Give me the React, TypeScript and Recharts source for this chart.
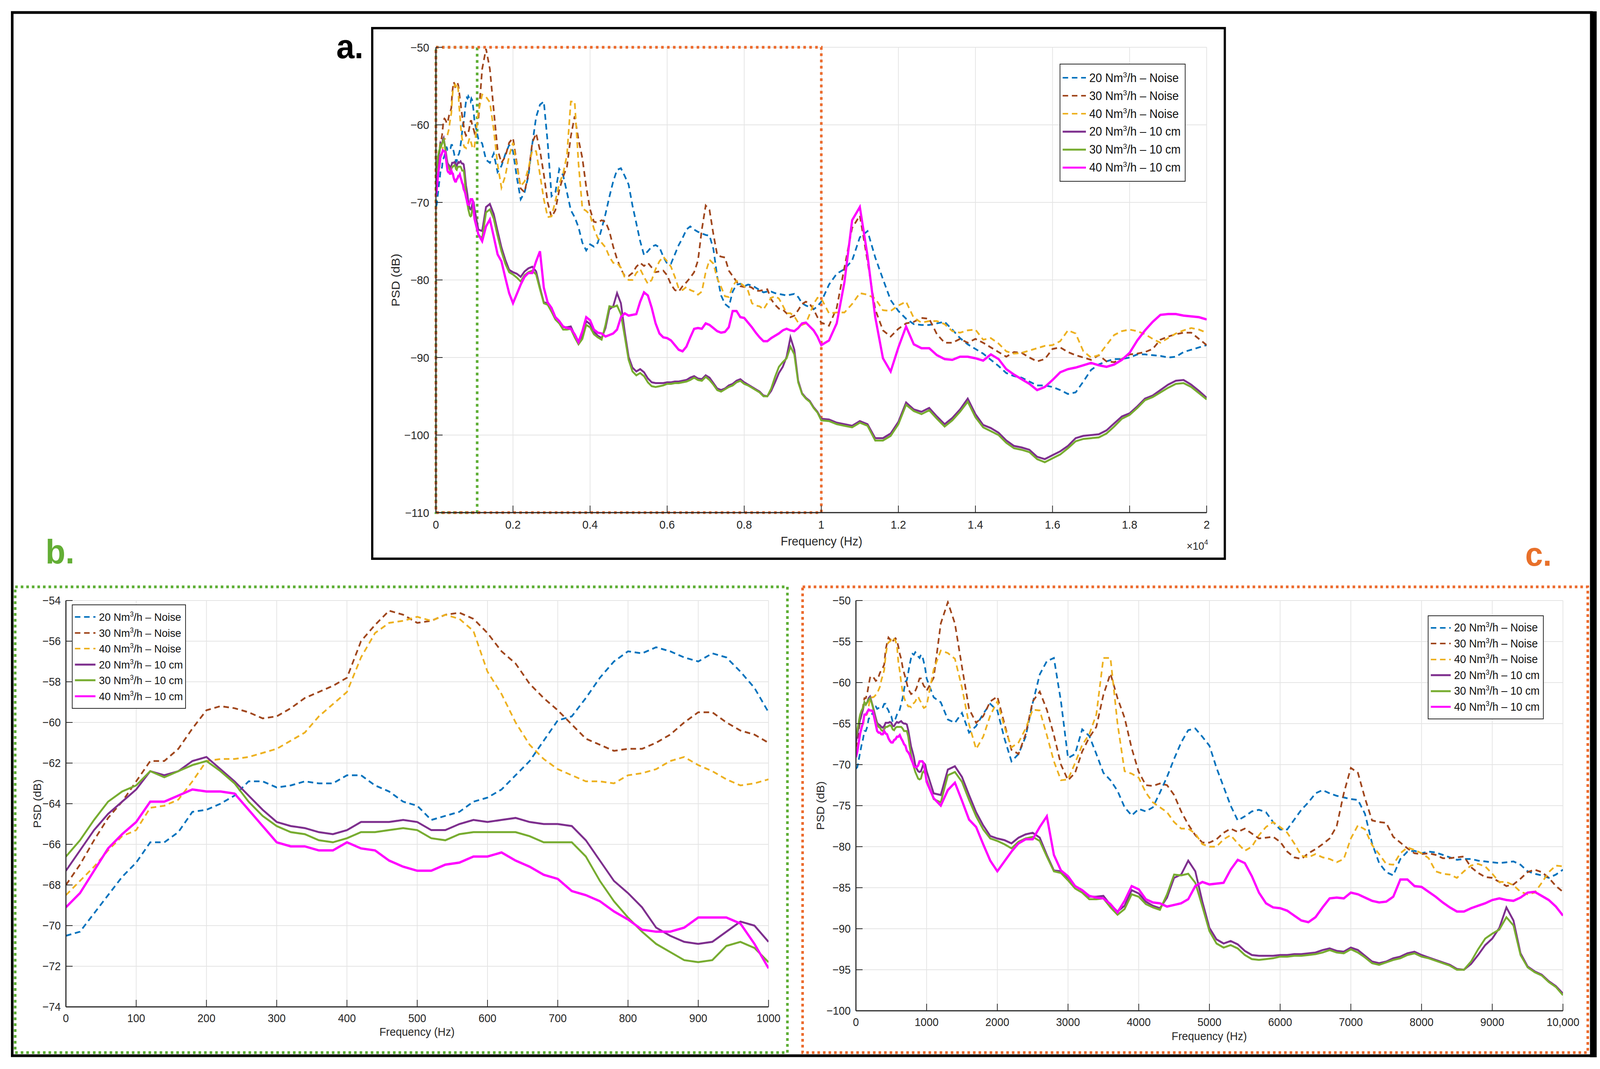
import React from 'react';
import { LineChart, Line, XAxis, YAxis, CartesianGrid, Legend, ReferenceArea } from 'recharts';

const FONT = '"Liberation Sans", Arial, Helvetica, sans-serif';
const INK = '#262626';
const ORANGE = '#EC6B2D';
const GREEN = '#5DAE34';

// Sampling frequencies (Hz)
const FREQ_HZ = [
  0, 20, 40, 60, 80, 100, 120, 140, 160, 180,
  200, 220, 240, 260, 280, 300, 320, 340, 360, 380,
  400, 420, 440, 460, 480, 500, 520, 540, 560, 580,
  600, 620, 640, 660, 680, 700, 720, 740, 760, 780,
  800, 820, 840, 860, 880, 900, 920, 940, 960, 980,
  1000,
  1100, 1200, 1300, 1400, 1500, 1600, 1700, 1800, 1900, 2000,
  2100, 2200, 2300, 2400, 2500, 2600, 2700, 2800, 2900, 3000,
  3100, 3200, 3300, 3400, 3500, 3600, 3700, 3800, 3900, 4000,
  4100, 4200, 4300, 4400, 4500, 4600, 4700, 4800, 4900, 5000,
  5100, 5200, 5300, 5400, 5500, 5600, 5700, 5800, 5900, 6000,
  6100, 6200, 6300, 6400, 6500, 6600, 6700, 6800, 6900, 7000,
  7100, 7200, 7300, 7400, 7500, 7600, 7700, 7800, 7900, 8000,
  8100, 8200, 8300, 8400, 8500, 8600, 8700, 8800, 8900, 9000,
  9100, 9200, 9300, 9400, 9500, 9600, 9700, 9800, 9900, 10000,
  10200, 10400, 10600, 10800, 11000, 11200, 11400, 11600, 11800, 12000,
  12200, 12400, 12600, 12800, 13000, 13200, 13400, 13600, 13800, 14000,
  14200, 14400, 14600, 14800, 15000, 15200, 15400, 15600, 15800, 16000,
  16200, 16400, 16600, 16800, 17000, 17200, 17400, 17600, 17800, 18000,
  18200, 18400, 18600, 18800, 19000, 19200, 19400, 19600, 19800, 20000,
];

// 20 Nm3/h - Noise (dB)
const NOISE_20 = [
  -70.5, -70.3, -69.4, -68.5, -67.6, -66.9, -65.9, -65.9, -65.4, -64.4,
  -64.3, -64.0, -63.6, -62.9, -62.9, -63.2, -63.1, -62.9, -63.0, -63.0,
  -62.6, -62.6, -63.1, -63.4, -63.9, -64.1, -64.8, -64.6, -64.4, -63.9,
  -63.7, -63.3, -62.6, -61.9, -60.9, -59.9, -59.7, -58.8, -57.8, -57.0,
  -56.5, -56.6, -56.3, -56.5, -56.8, -57.0, -56.6, -56.8, -57.5, -58.3,
  -59.5,
  -61.8, -62.4, -64.5, -64.9, -63.7, -66.1, -65.3, -63.8, -62.6, -63.4,
  -66.8, -69.6, -68.7, -66.6, -62.5, -59.0, -57.4, -57.0, -62.3, -69.2,
  -68.7, -65.7, -66.5, -68.7, -71.0, -71.9, -73.2, -75.2, -76.2, -75.4,
  -75.7, -75.2, -73.4, -71.5, -69.3, -67.3, -65.8, -65.6, -66.6, -67.7,
  -70.4, -72.7, -75.0, -76.8, -76.3, -75.7, -75.5, -75.8, -77.0, -77.9,
  -77.9, -76.7, -75.5, -74.6, -73.5, -73.1, -73.5, -73.8, -74.0, -74.2,
  -74.3, -76.0, -79.6, -82.0, -83.1, -83.5, -81.5, -80.6, -80.5, -80.8,
  -80.6, -80.7, -81.0, -81.3, -81.6, -81.5, -81.5, -81.7, -81.8, -81.9,
  -82.0, -81.9, -81.8, -82.2, -83.0, -83.3, -83.5, -83.8, -83.4, -82.8,
  -80.6, -79.2, -78.6, -77.5, -74.5, -73.7, -77.1, -79.9, -82.6, -84.0,
  -85.0, -85.7, -85.8, -85.8, -85.6, -85.4, -86.4, -87.5, -88.3, -88.9,
  -89.5, -90.3, -91.1, -92.0, -92.4, -92.6, -93.1, -93.6, -93.6, -93.8,
  -94.2, -94.7, -94.5, -93.1, -91.6, -90.9, -90.5, -90.2, -90.2, -90.0,
  -89.6, -89.6, -89.7, -89.8, -90.0, -89.9, -89.3, -89.0, -88.7, -88.4,
];

// 30 Nm3/h - Noise (dB)
const NOISE_30 = [
  -68.0, -67.0, -65.8, -64.7, -63.9, -62.9, -61.9, -61.9, -61.3, -60.3,
  -59.4, -59.2, -59.3, -59.5, -59.8, -59.7, -59.3, -58.8, -58.5, -58.2,
  -57.8, -56.0, -55.2, -54.5, -54.7, -55.1, -55.0, -54.7, -54.6, -54.9,
  -55.6, -56.5, -57.1, -58.1, -58.8, -59.4, -60.1, -60.8, -61.1, -61.4,
  -61.3, -61.3, -61.0, -60.6, -60.0, -59.5, -59.5, -60.0, -60.4, -60.6,
  -61.0,
  -59.4, -52.8, -50.2, -52.8, -58.1, -63.2, -64.9, -64.1, -62.3, -61.7,
  -65.0, -68.2, -68.7, -66.3, -62.3, -61.1, -63.3, -66.4, -70.0, -71.9,
  -71.0, -68.4, -66.7, -65.4, -61.5, -58.9, -61.9, -64.3, -68.0, -70.9,
  -72.5, -72.6, -72.3, -72.5, -73.7, -75.7, -77.3, -78.6, -79.5, -79.5,
  -79.1, -78.3, -77.8, -78.2, -77.8, -78.4, -79.0, -78.9, -78.8, -79.4,
  -80.6, -81.3, -81.5, -80.8, -80.3, -79.7, -79.0, -77.5, -73.5, -70.4,
  -71.0, -74.1, -76.8, -77.0, -77.1, -78.8, -79.5, -80.2, -80.8, -80.9,
  -80.8, -81.0, -81.4, -81.4, -81.3, -81.2, -82.5, -83.2, -83.7, -83.8,
  -84.3, -84.8, -84.6, -83.9, -83.1, -82.8, -83.1, -83.8, -84.8, -85.5,
  -85.9, -83.6, -78.4, -73.3, -71.7, -77.6, -83.8, -86.5, -87.3, -86.3,
  -85.6, -85.4, -84.9, -85.0, -87.0, -88.1, -88.1, -87.6, -88.1, -87.6,
  -88.1, -88.7, -89.3, -89.9, -89.3, -89.4, -90.0, -90.5, -90.2, -88.9,
  -88.7, -89.3, -89.7, -90.0, -90.3, -89.7, -90.5, -90.6, -90.2, -89.6,
  -89.5, -89.3, -88.9, -87.7, -87.3, -87.0, -86.8, -86.8, -87.6, -88.4,
];

// 40 Nm3/h - Noise (dB)
const NOISE_40 = [
  -68.5, -67.8, -67.1, -66.3, -65.6, -65.3, -64.2, -64.1, -63.8, -62.9,
  -61.9, -61.8, -61.8, -61.7, -61.5, -61.3, -60.9, -60.5, -59.7, -59.1,
  -58.5, -56.8, -55.6, -55.1, -55.0, -54.8, -55.0, -54.7, -54.9, -55.5,
  -57.5, -58.6, -60.0, -61.1, -61.8, -62.3, -62.6, -62.9, -62.9, -63.0,
  -62.6, -62.5, -62.3, -61.9, -61.7, -62.1, -62.4, -62.8, -63.1, -63.0,
  -62.8,
  -58.4, -56.1, -56.4, -57.1, -60.6, -65.1, -68.1, -66.6, -64.0, -62.3,
  -65.4, -67.9, -67.3, -65.6, -63.3, -63.4, -66.4, -69.6, -71.9, -71.8,
  -69.8, -67.6, -66.3, -63.9, -57.0, -57.0, -65.0, -70.8, -71.1, -71.6,
  -73.4, -74.6, -75.2, -75.8, -77.0, -77.8, -77.8, -78.4, -79.7, -80.0,
  -80.0, -79.1, -78.6, -79.6, -80.5, -80.0, -78.6, -77.6, -77.0, -77.6,
  -78.3, -79.6, -81.1, -81.3, -80.9, -81.3, -81.5, -81.9, -81.5, -79.0,
  -77.4, -77.9, -79.8, -80.9, -82.1, -82.2, -80.8, -80.1, -80.4, -80.8,
  -81.4, -83.0, -83.3, -83.4, -83.8, -83.0, -82.3, -82.1, -82.4, -83.3,
  -84.3, -84.3, -84.7, -85.5, -85.8, -85.6, -84.4, -83.1, -82.3, -82.4,
  -84.3, -84.2, -84.2, -83.1, -81.7, -81.9, -82.4, -83.9, -84.0, -83.3,
  -82.8, -84.9, -85.5, -85.3, -85.3, -85.7, -86.6, -86.8, -86.5, -86.4,
  -87.7, -87.5, -88.2, -89.2, -89.5, -89.4, -89.1, -88.8, -88.5, -88.4,
  -87.9, -86.5, -86.9, -89.2, -90.0, -89.7, -88.4, -87.1, -86.6, -86.4,
  -86.6, -87.0, -87.6, -88.1, -87.5, -86.9, -86.5, -86.2, -86.4, -86.8,
];

// 20 Nm3/h - 10 cm (dB)
const CM10_20 = [
  -67.3, -66.3, -65.3, -64.5, -63.9, -63.3, -62.4, -62.6, -62.4, -61.9,
  -61.7, -62.3, -62.9, -63.6, -64.3, -64.9, -65.1, -65.2, -65.4, -65.5,
  -65.3, -64.9, -64.9, -64.9, -64.8, -64.9, -65.3, -65.3, -65.0, -64.8,
  -64.9, -64.8, -64.7, -64.9, -65.0, -65.0, -65.1, -65.8, -66.8, -67.8,
  -68.4, -69.1, -70.1, -70.5, -70.8, -70.9, -70.8, -70.3, -69.8, -70.0,
  -70.8,
  -73.5, -73.7, -70.6, -70.2, -71.5, -73.7, -75.8, -77.4, -78.7, -79.0,
  -79.2, -79.6, -78.9, -78.5, -78.3, -78.9, -81.0, -82.9, -83.0, -83.8,
  -84.8, -85.3, -86.1, -86.1, -86.0, -87.1, -87.9, -87.2, -85.3, -85.7,
  -86.7, -87.2, -87.5, -86.2, -83.8, -83.4, -81.7, -83.0, -86.7, -89.9,
  -91.3, -91.8, -91.5, -91.9, -92.7, -93.2, -93.3, -93.3, -93.3, -93.2,
  -93.2, -93.1, -93.1, -93.0, -92.9, -92.6, -92.4, -92.7, -92.8, -92.3,
  -92.6, -93.3, -94.0, -94.2, -94.0, -93.6, -93.4, -93.0, -92.8, -93.2,
  -93.5, -93.8, -94.1, -94.4, -94.9, -95.0, -94.3, -93.2, -92.0, -91.2,
  -89.9, -87.4, -89.0, -93.0, -94.6, -95.2, -95.6, -96.4, -97.0, -97.9,
  -98.0, -98.4, -98.6, -98.8, -98.2, -98.6, -100.4, -100.4, -99.8, -98.3,
  -95.8, -96.7, -97.0, -96.5, -97.6, -98.6, -97.8, -96.7, -95.3, -97.3,
  -98.7, -99.1, -99.7, -100.7, -101.4, -101.6, -101.9, -102.8, -103.1, -102.6,
  -102.1, -101.4, -100.4, -100.1, -100.0, -99.9, -99.4, -98.5, -97.6, -97.2,
  -96.3, -95.3, -94.9, -94.2, -93.5, -93.0, -92.9, -93.5, -94.3, -95.2,
];

// 30 Nm3/h - 10 cm (dB)
const CM10_30 = [
  -66.6, -65.8, -64.8, -63.9, -63.4, -63.1, -62.4, -62.7, -62.4, -62.1,
  -61.9, -62.4, -63.0, -63.9, -64.6, -65.1, -65.4, -65.5, -65.8, -65.9,
  -65.7, -65.4, -65.4, -65.3, -65.2, -65.3, -65.7, -65.8, -65.5, -65.4,
  -65.4, -65.4, -65.4, -65.6, -65.9, -65.9, -65.9, -66.6, -67.8, -68.8,
  -69.6, -70.3, -70.9, -71.3, -71.7, -71.8, -71.7, -71.0, -70.8, -71.1,
  -71.8,
  -74.2, -74.6, -71.3, -70.9, -72.1, -74.3, -76.3, -77.9, -79.0, -79.3,
  -79.7, -80.2, -79.4, -79.0, -78.8, -79.3, -81.2, -83.0, -83.2, -84.1,
  -85.1, -85.6, -86.4, -86.4, -86.3, -87.4, -88.3, -87.6, -85.8, -86.1,
  -87.0, -87.4, -87.7, -85.8, -83.4, -83.5, -83.3, -84.4, -87.3, -90.3,
  -91.8, -92.3, -92.0, -92.4, -93.2, -93.7, -93.8, -93.7, -93.6, -93.4,
  -93.4, -93.3, -93.3, -93.2, -93.1, -92.9, -92.6, -92.9, -93.0, -92.5,
  -92.9, -93.5, -94.2, -94.4, -94.1, -93.8, -93.6, -93.2, -93.0, -93.4,
  -93.6, -93.9, -94.2, -94.5, -95.0, -95.0, -94.0, -92.5, -91.2, -90.6,
  -90.1, -88.6, -89.6, -93.2, -94.7, -95.3, -95.7, -96.5, -97.1, -98.1,
  -98.2, -98.6, -98.8, -99.0, -98.4, -98.8, -100.7, -100.7, -100.1, -98.6,
  -96.1, -96.9, -97.3, -96.8, -97.9, -98.9, -98.1, -97.0, -95.7, -97.7,
  -99.0, -99.5, -100.0, -101.0, -101.7, -101.9, -102.2, -103.1, -103.5, -103.0,
  -102.5, -101.7, -100.8, -100.5, -100.4, -100.3, -99.8, -98.9, -97.9, -97.4,
  -96.5, -95.5, -95.1, -94.5, -93.9, -93.4, -93.3, -93.8, -94.6, -95.4,
];

// 40 Nm3/h - 10 cm (dB)
const CM10_40 = [
  -69.1, -68.4, -67.3, -66.2, -65.5, -64.9, -63.9, -63.9, -63.6, -63.3,
  -63.4, -63.4, -63.5, -64.3, -65.1, -65.9, -66.1, -66.1, -66.3, -66.3,
  -65.9, -66.2, -66.3, -66.8, -67.1, -67.3, -67.3, -67.0, -66.9, -66.6,
  -66.6, -66.4, -66.8, -67.1, -67.5, -67.7, -68.3, -68.5, -68.8, -69.3,
  -69.7, -70.2, -70.3, -70.3, -70.1, -69.6, -69.6, -69.6, -69.9, -70.9,
  -72.1,
  -74.1, -75.0, -73.1, -72.2, -74.4, -76.7, -77.6, -79.7, -81.7, -83.0,
  -81.8, -80.6, -79.6, -79.1, -79.1, -77.6, -76.3, -81.0, -82.9, -83.6,
  -84.8, -85.3, -86.0, -86.2, -86.3, -87.0, -88.0, -86.6, -84.8, -85.2,
  -86.4, -86.8, -86.9, -87.3, -87.1, -86.9, -86.4, -84.8, -84.3, -84.6,
  -84.5, -84.4, -82.8, -81.6, -82.0, -83.6, -85.6, -86.9, -87.4, -87.5,
  -87.8, -88.4, -89.0, -89.2, -88.6, -87.4, -86.3, -86.2, -86.3, -85.6,
  -85.8, -86.2, -86.6, -86.8, -86.7, -86.1, -84.0, -84.0, -84.8, -84.9,
  -85.5, -86.1, -86.8, -87.4, -87.9, -87.9, -87.5, -87.2, -86.9, -86.5,
  -86.3, -86.5, -86.6, -86.2, -85.6, -85.5, -86.0, -86.5, -87.3, -88.4,
  -87.8, -85.6, -80.3, -72.3, -70.6, -76.9, -84.8, -90.1, -91.8, -88.7,
  -86.0, -88.3, -88.8, -88.8, -89.7, -90.2, -90.3, -89.9, -89.9, -90.1,
  -90.4, -89.6, -90.2, -91.5, -92.2, -92.8, -93.4, -94.2, -93.8, -92.9,
  -91.9, -91.5, -91.3, -91.0, -90.7, -91.0, -91.2, -90.9, -90.3, -89.4,
  -87.8, -86.5, -85.4, -84.5, -84.4, -84.4, -84.6, -84.7, -84.8, -85.1,
];

const SERIES = [
  { key: 'n20', name: '20 Nm³/h – Noise', color: '#0072BD', dash: '15 10', width: 4.5, values: NOISE_20 },
  { key: 'n30', name: '30 Nm³/h – Noise', color: '#A0461C', dash: '15 10', width: 4.5, values: NOISE_30 },
  { key: 'n40', name: '40 Nm³/h – Noise', color: '#EDB120', dash: '15 10', width: 4.5, values: NOISE_40 },
  { key: 'c20', name: '20 Nm³/h – 10 cm', color: '#7E2F8E', dash: undefined, width: 5, values: CM10_20 },
  { key: 'c30', name: '30 Nm³/h – 10 cm', color: '#77AC30', dash: undefined, width: 5, values: CM10_30 },
  { key: 'c40', name: '40 Nm³/h – 10 cm', color: '#FF00FF', dash: undefined, width: 6, values: CM10_40 },
];

const ROWS = FREQ_HZ.map((f, i) => {
  const r: any = { f };
  SERIES.forEach((s) => { r[s.key] = s.values[i]; });
  return r;
});

const X_TICKS_A = [0, 2000, 4000, 6000, 8000, 10000, 12000, 14000, 16000, 18000, 20000];
const Y_TICKS_A = [-110, -100, -90, -80, -70, -60, -50];
const X_TICKS_B = [0, 100, 200, 300, 400, 500, 600, 700, 800, 900, 1000];
const Y_TICKS_B = [-74, -72, -70, -68, -66, -64, -62, -60, -58, -56, -54];
const X_TICKS_C = [0, 1000, 2000, 3000, 4000, 5000, 6000, 7000, 8000, 9000, 10000];
const Y_TICKS_C = [-100, -95, -90, -85, -80, -75, -70, -65, -60, -55, -50];

const minusFmt = (v: number) => (v < 0 ? '\u2212' + Math.abs(v) : String(v));

const PANELS: any = {
  a: {
    plot: { x: 1177, y: 121, w: 2081, h: 1191 },
    xMax: 20000, xTicks: X_TICKS_A, xFmt: (v: number) => String(v / 10000),
    yDomain: [-110, -50], yTicks: Y_TICKS_A,
    legend: { x: 2861, y: 163, w: 340, h: 302, font: 31, sample: 63 },
    tickFont: 30, yGap: 18, xGap: 20,
  },
  b: {
    plot: { x: 178, y: 1537, w: 1897, h: 1040 },
    xMax: 1000, xTicks: X_TICKS_B, xFmt: (v: number) => String(v),
    yDomain: [-74, -54], yTicks: Y_TICKS_B,
    legend: { x: 194, y: 1547, w: 308, h: 267, font: 28.5, sample: 56 },
    tickFont: 29, yGap: 14, xGap: 18,
  },
  c: {
    plot: { x: 2311, y: 1537, w: 1909, h: 1050 },
    xMax: 10000, xTicks: X_TICKS_C, xFmt: (v: number) => (v === 10000 ? '10,000' : String(v)),
    yDomain: [-100, -50], yTicks: Y_TICKS_C,
    legend: { x: 3855, y: 1575, w: 313, h: 266, font: 29, sample: 54 },
    tickFont: 29, yGap: 14, xGap: 18,
  },
};

// Layout is designed in reference pixels (4320 x 2736). The browser viewport is
// narrower than that (about 4096 px), so the drawing is fitted to it horizontally.
const DESIGN_W = 4320;
const DESIGN_H = 2736;
const VIEW_W = 4096;
const SCALE_X = VIEW_W / DESIGN_W;

const L = 140;
const T = 32;
const R = 80;
const B = 100;
const TICK = 18;

function LegendName({ name }: { name: string }) {
  const parts = name.split('³');
  return (
    <span style={{ whiteSpace: 'nowrap' }}>
      {parts[0]}
      <span style={{ fontSize: '0.62em', position: 'relative', top: '-0.62em' }}>3</span>
      {parts[1]}
    </span>
  );
}

const makeLegend = (cfg: any) => (props: any) => {
  const payload = (props.payload || []).slice().sort(
    (p: any, q: any) => SERIES.findIndex((s) => s.key === p.dataKey) - SERIES.findIndex((s) => s.key === q.dataKey),
  );
  return (
    <div
      style={{
        boxSizing: 'border-box', width: cfg.w, height: cfg.h, border: `2px solid ${INK}`, background: '#fff',
        display: 'flex', flexDirection: 'column', justifyContent: 'space-evenly', padding: '4px 6px 4px 6px',
        fontFamily: FONT, fontSize: cfg.font, color: '#111', lineHeight: 1,
      }}
    >
      {payload.map((entry: any) => {
        const s = SERIES.find((x) => x.key === entry.dataKey) || SERIES[0];
        return (
          <div key={s.key} style={{ display: 'flex', alignItems: 'center' }}>
            <svg width={cfg.sample} height={12} style={{ marginRight: 9, flex: 'none' }}>
              <line x1={0} x2={cfg.sample} y1={6} y2={6} stroke={s.color} strokeWidth={s.dash ? 4 : 5} strokeDasharray={s.dash} />
            </svg>
            <LegendName name={s.name} />
          </div>
        );
      })}
    </div>
  );
};

function Panel({ id }: { id: string }) {
  const p = PANELS[id];
  const W = L + p.plot.w + R;
  const H = T + p.plot.h + B;
  const left = p.plot.x - L;
  const top = p.plot.y - T;
  const data = ROWS.filter((r: any) => r.f <= p.xMax);
  const axisLine = { stroke: INK, strokeWidth: 3 };
  const tickLine = { stroke: INK, strokeWidth: 2 };
  const tickStyle = { fill: INK, fontSize: p.tickFont, fontFamily: FONT };
  return (
    <div style={{ position: 'absolute', left, top, width: W, height: H }}>
      <LineChart width={W} height={H} data={data} margin={{ top: T, right: R, left: 0, bottom: 0 }}>
        <CartesianGrid stroke="#e4e4e4" strokeWidth={2} />
        <XAxis
          dataKey="f" type="number" domain={[0, p.xMax]} ticks={p.xTicks} interval={0} tickFormatter={p.xFmt}
          height={B} tickSize={-TICK} tickMargin={TICK + p.xGap} axisLine={axisLine} tickLine={tickLine} tick={tickStyle}
          allowDataOverflow
        />
        <XAxis
          xAxisId="top" orientation="top" type="number" domain={[0, p.xMax]} ticks={p.xTicks} interval={0}
          height={0} tick={false} tickSize={-TICK} axisLine={axisLine} tickLine={tickLine} allowDataOverflow
        />
        <YAxis
          type="number" domain={p.yDomain} ticks={p.yTicks} interval={0} width={L} tickFormatter={minusFmt}
          tickSize={-TICK} tickMargin={TICK + p.yGap} axisLine={axisLine} tickLine={tickLine} tick={tickStyle}
          allowDataOverflow
        />
        <YAxis
          yAxisId="right" orientation="right" type="number" domain={p.yDomain} ticks={p.yTicks} interval={0}
          width={0} tick={false} tickSize={-TICK} axisLine={axisLine} tickLine={tickLine} allowDataOverflow
        />
        {SERIES.map((s) => (
          <Line
            key={s.key} dataKey={s.key} name={s.name} type="linear" stroke={s.color} strokeWidth={s.width}
            strokeDasharray={s.dash} dot={false} activeDot={false} isAnimationActive={false}
          />
        ))}
        {id === 'a' && (
          <ReferenceArea x1={0} x2={1070} y1={-110} y2={-50} fill="none" fillOpacity={0} stroke={GREEN} strokeWidth={7} strokeDasharray="7 9" />
        )}
        {id === 'a' && (
          <ReferenceArea x1={0} x2={10000} y1={-110} y2={-50} fill="none" fillOpacity={0} stroke={ORANGE} strokeWidth={7} strokeDasharray="7 9" />
        )}
        <Legend
          layout="vertical" align="center" verticalAlign="middle"
          wrapperStyle={{ left: p.legend.x - left, top: p.legend.y - top, width: p.legend.w, height: p.legend.h }}
          content={makeLegend(p.legend)}
        />
      </LineChart>
    </div>
  );
}

function Overlay() {
  const t = { fontFamily: FONT, fill: INK } as any;
  return (
    <svg width={DESIGN_W} height={DESIGN_H} style={{ position: 'absolute', left: 0, top: 0 }}>
      <rect x={33} y={32} width={4264} height={2670} fill="none" stroke="#000" strokeWidth={7} />
      <rect x={4293} y={29} width={18} height={2677} fill="#000" />
      <rect x={1005} y={72} width={2302} height={1358} fill="none" stroke="#000" strokeWidth={6} />
      <rect x={41} y={1502} width={2085} height={1192} fill="none" stroke={GREEN} strokeWidth={7} strokeDasharray="7 8" />
      <rect x={2167} y={1502} width={2120} height={1192} fill="none" stroke={ORANGE} strokeWidth={7} strokeDasharray="7 8" />

      <text x={908} y={149} fontFamily={FONT} fontWeight="bold" fontSize={88} fill="#000">a.</text>
      <text x={123} y={1442} fontFamily={FONT} fontWeight="bold" fontSize={88} fill="#63AE35">b.</text>
      <text x={4118} y={1448} fontFamily={FONT} fontWeight="bold" fontSize={86} fill="#E8702A">c.</text>

      <text {...t} x={2218} y={1396} fontSize={32} textAnchor="middle">Frequency (Hz)</text>
      <text {...t} fontSize={32} textAnchor="middle" dominantBaseline="central" transform="translate(1068,717) rotate(-90)">PSD (dB)</text>
      <text {...t} x={3262} y={1407} fontSize={28} textAnchor="end">
        ×10<tspan fontSize={19} dy={-13}>4</tspan>
      </text>

      <text {...t} x={1126} y={2651} fontSize={29.5} textAnchor="middle">Frequency (Hz)</text>
      <text {...t} fontSize={29.5} textAnchor="middle" dominantBaseline="central" transform="translate(101,2057) rotate(-90)">PSD (dB)</text>

      <text {...t} x={3265} y={2662} fontSize={29.5} textAnchor="middle">Frequency (Hz)</text>
      <text {...t} fontSize={29.5} textAnchor="middle" dominantBaseline="central" transform="translate(2215,2062) rotate(-90)">PSD (dB)</text>
    </svg>
  );
}

export default function App() {
  return (
    <div
      style={{
        position: 'absolute', left: 0, top: 0, width: Math.floor(DESIGN_W * SCALE_X), height: DESIGN_H,
        overflow: 'hidden', background: '#fff',
      }}
    >
      <div
        style={{
          position: 'absolute', left: 0, top: 0, width: DESIGN_W, height: DESIGN_H, background: '#fff',
          transform: `scale(${SCALE_X}, 1)`, transformOrigin: '0 0',
        }}
      >
        <Overlay />
        <Panel id="a" />
        <Panel id="b" />
        <Panel id="c" />
      </div>
    </div>
  );
}
